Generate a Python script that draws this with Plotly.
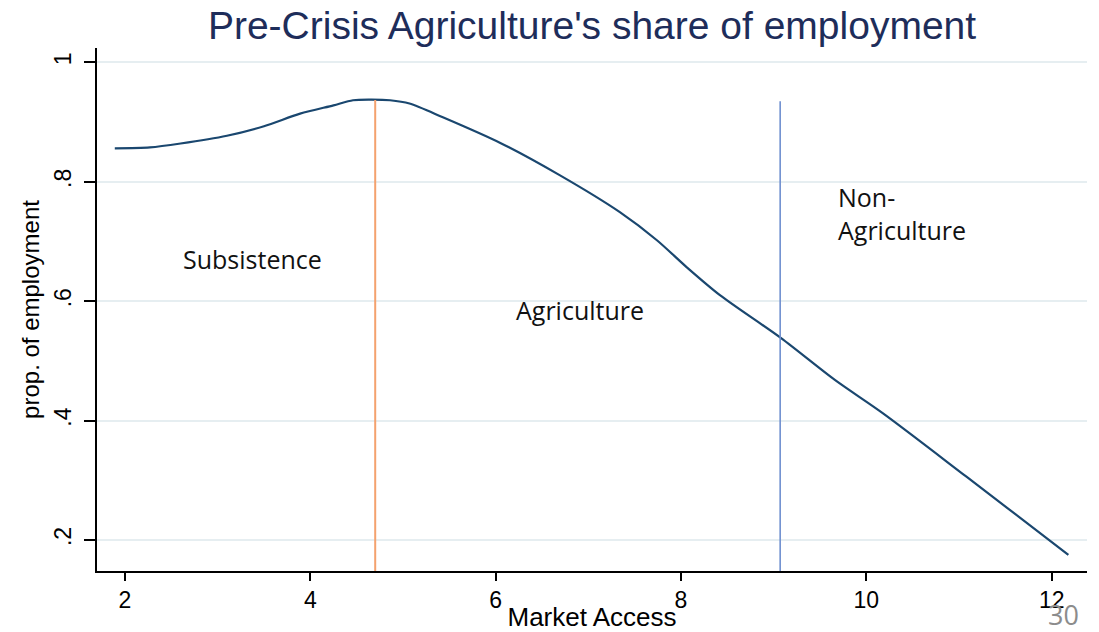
import plotly.graph_objects as go

# Lowess-smoothed share of employment in agriculture against market access
market_access = [1.89, 2.27, 2.60, 3.10, 3.50, 3.89, 4.25, 4.46, 4.66, 4.86, 5.07, 5.43,
                 6.05, 6.69, 7.34, 7.74, 8.06, 8.42, 9.08, 9.66, 10.18, 11.08, 12.18]
ag_share = [0.856, 0.8575, 0.864, 0.877, 0.893, 0.914, 0.928, 0.9365, 0.9375, 0.9365, 0.931, 0.908,
            0.865, 0.811, 0.749, 0.702, 0.657, 0.610, 0.538, 0.468, 0.412, 0.306, 0.175]

# Regime thresholds (market access value, height where the marker line stops)
subsistence_cut = [4.70, 0.937]
nonag_cut = [9.07, 0.935]

x_range = [1.698, 12.381]
y_range = [0.148, 1.024]
x_ticks = [2, 4, 6, 8, 10, 12]
y_ticks = [0.2, 0.4, 0.6, 0.8, 1.0]
y_ticklabels = [".2", ".4", ".6", ".8", "1"]

region_labels = ["Subsistence", "Agriculture", "Non-<br>Agriculture"]

NAVY = "#1a476f"
AXIS_FONT = "Liberation Sans, Arial, sans-serif"
NOTE_FONT = "Open Sans, Noto Sans, sans-serif"

fig = go.Figure()

fig.add_trace(go.Scatter(
    x=market_access, y=ag_share, mode="lines",
    line=dict(color=NAVY, width=2.2, shape="spline", smoothing=0.8),
    showlegend=False, hoverinfo="skip"))

fig.add_trace(go.Scatter(
    x=[subsistence_cut[0], subsistence_cut[0]], y=[y_range[0], subsistence_cut[1]],
    mode="lines", line=dict(color="#f4a26e", width=2),
    showlegend=False, hoverinfo="skip"))

fig.add_trace(go.Scatter(
    x=[nonag_cut[0], nonag_cut[0]], y=[y_range[0], nonag_cut[1]],
    mode="lines", line=dict(color="#7090d0", width=1.6),
    showlegend=False, hoverinfo="skip"))

# Region labels placed in plot-area fractions
label_pos = [(0.0848, 0.596), (0.4212, 0.499), (0.7465, 0.683)]
for text, (px, py) in zip(region_labels, label_pos):
    fig.add_annotation(
        text=text, xref="paper", yref="paper", x=px, y=py,
        xanchor="left", yanchor="middle", align="left", showarrow=False,
        font=dict(family=NOTE_FONT, size=25, color="#111111"))

# Slide number
fig.add_annotation(
    text="30", xref="paper", yref="paper", x=0.976, y=-0.083,
    xanchor="center", yanchor="middle", showarrow=False,
    font=dict(family=NOTE_FONT, size=27, color="#8c8c8c"))

fig.update_layout(
    width=1099, height=632,
    margin=dict(l=97, r=12, t=48, b=61),
    paper_bgcolor="white", plot_bgcolor="white",
    title=dict(text="Pre-Crisis Agriculture's share of employment",
               x=0.5, xref="paper", xanchor="center",
               y=1 - 25 / 632, yref="container", yanchor="middle",
               automargin=False,
               font=dict(family=AXIS_FONT, size=39, color="#1e2d5a")),
    xaxis=dict(range=x_range, tickvals=x_ticks, showgrid=False, zeroline=False,
               automargin=False,
               showline=True, linecolor="black", linewidth=1.5,
               ticks="outside", ticklen=8, tickwidth=1.5, tickcolor="black",
               tickfont=dict(family=AXIS_FONT, size=23, color="black"),
               ticklabelstandoff=0,
               title=dict(text="Market Access", standoff=0,
                          font=dict(family=AXIS_FONT, size=26, color="black"))),
    yaxis=dict(range=y_range, tickvals=y_ticks, ticktext=y_ticklabels,
               automargin=False,
               tickangle=-90, showgrid=True, gridcolor="#e6eef1", gridwidth=1.5,
               zeroline=False, showline=True, linecolor="black", linewidth=1.5,
               ticks="outside", ticklen=11, tickwidth=1.5, tickcolor="black",
               tickfont=dict(family=AXIS_FONT, size=23, color="black"),
               ticklabelstandoff=4,
               title=dict(text="prop. of employment", standoff=4,
                          font=dict(family=AXIS_FONT, size=24, color="black"))),
)

fig.write_html("out.html")
